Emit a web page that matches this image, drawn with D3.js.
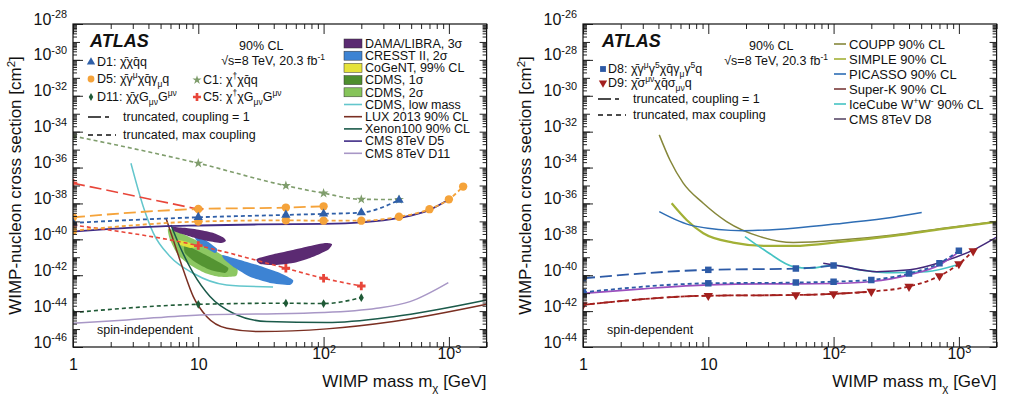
<!DOCTYPE html>
<html><head><meta charset="utf-8">
<script src="https://cdn.jsdelivr.net/npm/d3@7"></script>
<style>
body{margin:0;background:#fff}
svg{display:block}
text{font-family:"Liberation Sans",Arial,Helvetica,sans-serif;fill:#111}
</style>
</head><body>
<svg id="c" width="1024" height="416"></svg>
<script>
// ---------------- DATA ----------------
const massTicks = [1, 10, 100, 1000];
const massTickLabels = ["1", "10", "10^2", "10^3"];
const siTickExps = [-28, -30, -32, -34, -36, -38, -40, -42, -44, -46];
const sdTickExps = [-26, -28, -30, -32, -34, -36, -38, -40, -42, -44];

// Spin-independent (left) -- cross sections given as log10(sigma / cm^2)
const d1Mass = [1, 10, 50, 100, 200, 400];
const d1Xsec = [-39.08, -38.77, -38.64, -38.58, -38.51, -37.81];
const d5TruncMass = [1, 10, 50, 100];
const d5TruncXsec = [-38.77, -38.31, -38.23, -38.16];
const d5MaxMass = [1, 10, 50, 100, 200, 400, 700, 1000, 1300];
const d5MaxXsec = [-39.52, -39.01, -38.94, -38.96, -38.96, -38.74, -38.32, -37.77, -37.06];
const d11Mass = [1, 10, 50, 100, 200];
const d11Xsec = [-44.08, -43.62, -43.56, -43.58, -43.25];
const c1Mass = [1, 10, 50, 100, 200, 400];
const c1Xsec = [-34.24, -35.76, -37.01, -37.43, -37.77, -37.78];
const c5TruncMass = [1, 10];
const c5TruncXsec = [-36.87, -38.32];
const c5MaxMass = [1, 10, 50, 100, 200];
const c5MaxXsec = [-39.2, -40.35, -41.61, -42.17, -42.60];

const cmsD5Mass = [1, 2, 5, 10, 30, 100, 200, 400, 700, 1000];
const cmsD5Xsec = [-39.57, -39.42, -39.28, -39.23, -39.17, -39.14, -39.06, -38.81, -38.36, -37.78];
const cmsD11Mass = [1, 2.68, 10.3, 31.1, 99.5, 265, 489, 990];
const cmsD11Xsec = [-44.67, -44.49, -44.21, -44.16, -44.08, -43.84, -43.47, -42.41];
const cdmsLowMass = [2.9, 3.64, 4.37, 5.95, 9.1, 16.8, 39.5];
const cdmsLowXsec = [-35.76, -38.18, -39.64, -40.96, -41.89, -42.54, -42.66];
const luxMass = [5.52, 6.31, 7.59, 9.12, 11.7, 16.9, 31.1, 106, 360, 2000];
const luxXsec = [-38.82, -40.03, -41.70, -43.19, -44.31, -44.95, -45.14, -44.99, -44.58, -43.62];
const xenonMass = [6.05, 7.14, 9.12, 12.4, 19.0, 35.2, 106, 360, 2000];
const xenonXsec = [-39.20, -40.41, -41.89, -43.19, -44.12, -44.58, -44.64, -44.31, -43.38];

// allowed regions: [mass, log10 sigma]
const damaRegionA = [[6.17,-39.31],[7.83,-39.36],[10.3,-39.48],[13.1,-39.64],[16.0,-39.92],[16.6,-40.09],[15.2,-40.20],[11.9,-40.09],[9.42,-39.92],[7.42,-39.70],[6.4,-39.53]];
const damaRegionB = [[29.3,-41.09],[40.9,-40.81],[57.0,-40.59],[78.0,-40.37],[102.6,-40.20],[116.8,-40.26],[108,-40.59],[78.0,-41.04],[57.0,-41.32],[40.9,-41.43],[31.1,-41.37]];
const cresstRegionA = [[9.42,-39.81],[11.3,-40.03],[14.1,-40.53],[13.6,-40.76],[10.9,-40.37],[9.6,-40.03]];
const cresstRegionB = [[15.7,-40.87],[21.5,-41.15],[31.1,-41.48],[44.9,-41.87],[57.0,-42.26],[53.9,-42.54],[37.3,-42.43],[25.8,-42.09],[19.6,-41.59],[16.0,-41.09]];
const cdms2Region = [[5.74,-39.42],[7.14,-39.64],[9.42,-40.03],[12.4,-40.48],[16.3,-40.98],[20.4,-41.59],[20.0,-42.04],[14.9,-42.09],[11.3,-41.87],[8.6,-41.43],[6.88,-40.87],[5.95,-40.03]];
const cdms1Region = [[7.83,-40.31],[10.3,-40.70],[13.6,-41.15],[17.3,-41.59],[16.3,-41.87],[12.4,-41.70],[9.42,-41.26],[7.83,-40.76]];
const cogentRegion = [[6.75,-40.03],[8.6,-40.2],[9.77,-40.42],[8.6,-40.48],[6.88,-40.26]];

// Spin-dependent (right)
const d8TruncMass = [1, 10, 50, 100];
const d8TruncXsec = [-40.17, -39.70, -39.63, -39.46];
const d8MaxMass = [1, 10, 50, 100, 200, 400, 700, 1000];
const d8MaxXsec = [-40.95, -40.45, -40.41, -40.36, -40.26, -39.91, -39.33, -38.63];
const d9TruncMass = [1, 10, 50, 100, 200];
const d9TruncXsec = [-41.65, -41.14, -41.10, -41.04, -40.91];
const d9MaxMass = [1, 10, 50, 100, 200, 400, 700, 1000, 1300];
const d9MaxXsec = [-41.65, -41.14, -41.10, -41.04, -40.91, -40.63, -40.04, -39.37, -38.65];

const couppMass = [4.06, 4.94, 6.31, 9.12, 14.0, 25.9, 47.7, 119, 300, 750, 2000];
const couppXsec = [-32.18, -33.58, -34.87, -35.99, -37.01, -37.85, -38.18, -38.03, -37.76, -37.38, -37.01];
const simpleMass = [5.1, 6.72, 9.12, 15.8, 29.2, 47.7, 119, 300, 750, 2000];
const simpleXsec = [-35.99, -36.92, -37.66, -38.18, -38.37, -38.37, -38.13, -37.81, -37.42, -37.03];
const picassoMass = [4.06, 7.6, 19.0, 47.7, 119, 300, 505];
const picassoXsec = [-36.46, -37.25, -37.52, -37.38, -37.10, -36.77, -36.51];
const superkMass = [82.7, 119, 221, 407, 750, 1387, 2000];
const superkXsec = [-39.33, -39.52, -39.80, -39.70, -39.24, -38.50, -37.88];
const icecubeMass = [19.6, 29.3, 47.7, 64.8, 99.5, 162, 300, 553, 960];
const icecubeXsec = [-37.85, -38.69, -39.52, -39.61, -39.43, -39.70, -39.86, -39.80, -39.43];
const cmsD8Mass = [1, 3, 10, 30, 50, 100, 200, 400, 700, 1000];
const cmsD8Xsec = [-41.01, -40.76, -40.54, -40.48, -40.48, -40.46, -40.35, -39.98, -39.43, -38.70];

// ---------------- DRAWING ----------------
const svg = d3.select("#c");
const LONG = "12,5";
const SHORT = "4,3";

function rich(sel, parts, fs) {
  let cur = 0;
  parts.forEach(p => {
    const t = p[0], m = p[1] || "";
    const target = m === "sup" ? -0.38 * fs : m === "sub" ? 0.28 * fs : 0;
    sel.append("tspan").attr("dy", (target - cur).toFixed(2)).attr("font-size", m ? fs * 0.68 : fs).text(t);
    cur = target;
  });
  if (cur !== 0) sel.append("tspan").attr("dy", -cur).text("");
}
function powLabel(sel, s, fs) {
  const [b, e] = s.split("^");
  sel.text(null);
  if (e === undefined) { sel.append("tspan").text(b); return; }
  rich(sel, [[b, ""], [e, "sup"]], fs);
}

function makePanel(cfg) {
  const g = svg.append("g");
  const x = d3.scaleLog().domain([1, 2000]).range([cfg.x0, cfg.x1]);
  const y = d3.scaleLog().domain([Math.pow(10, cfg.yMin), Math.pow(10, cfg.yMax)]).range([cfg.y1, cfg.y0]);
  const id = "clip" + cfg.name;
  svg.append("clipPath").attr("id", id).append("rect")
    .attr("x", cfg.x0).attr("y", cfg.y0).attr("width", cfg.x1 - cfg.x0).attr("height", cfg.y1 - cfg.y0);
  const plot = g.append("g").attr("clip-path", `url(#${id})`);
  const axes = svg.append("g");

  const xMinor = [];
  [1, 10, 100, 1000].forEach(d => { for (let k = 2; k <= 9; k++) if (d * k <= 2000) xMinor.push(d * k); });
  const yMinor = [], yDec = [];
  for (let e = cfg.yMin; e < cfg.yMax; e++) {
    yDec.push(Math.pow(10, e));
    for (let k = 2; k <= 9; k++) yMinor.push(k * Math.pow(10, e));
  }
  const clean = s => s.select(".domain").remove();
  axes.append("g").attr("transform", `translate(0,${cfg.y1})`).call(d3.axisBottom(x).tickValues(xMinor).tickSize(-5).tickFormat("")).call(clean);
  axes.append("g").attr("transform", `translate(0,${cfg.y0})`).call(d3.axisTop(x).tickValues(xMinor).tickSize(-5).tickFormat("")).call(clean);
  axes.append("g").attr("transform", `translate(0,${cfg.y0})`).call(d3.axisTop(x).tickValues(massTicks).tickSize(-10).tickFormat("")).call(clean);
  const bx = axes.append("g").attr("transform", `translate(0,${cfg.y1})`)
    .call(d3.axisBottom(x).tickValues(massTicks).tickSize(-10).tickPadding(12)).call(clean);
  bx.selectAll(".tick text").attr("font-size", 16).attr("fill", "#111")
    .each(function (d, i) { powLabel(d3.select(this), massTickLabels[i], 16); });

  [[d3.axisLeft, cfg.x0], [d3.axisRight, cfg.x1]].forEach(([ax, pos]) => {
    axes.append("g").attr("transform", `translate(${pos},0)`).call(ax(y).tickValues(yMinor).tickSize(-4).tickFormat("")).call(clean);
    axes.append("g").attr("transform", `translate(${pos},0)`).call(ax(y).tickValues(yDec).tickSize(-7).tickFormat("")).call(clean);
  });
  const ly = axes.append("g").attr("transform", `translate(${cfg.x0},0)`)
    .call(d3.axisLeft(y).tickValues(cfg.labels.map(e => Math.pow(10, e))).tickSize(-10).tickPadding(6)).call(clean);
  ly.selectAll(".tick text").attr("font-size", 16).attr("fill", "#111")
    .each(function (d, i) { powLabel(d3.select(this), "10^" + cfg.labels[i], 16); });
  axes.selectAll(".tick line").attr("stroke", "#222");

  axes.append("rect").attr("x", cfg.x0).attr("y", cfg.y0).attr("width", cfg.x1 - cfg.x0).attr("height", cfg.y1 - cfg.y0)
    .attr("fill", "none").attr("stroke", "#111").attr("stroke-width", 1.2);

  const yt = svg.append("text").attr("transform", `translate(${cfg.x0 - 52},${(cfg.y0 + cfg.y1) / 2}) rotate(-90)`)
    .attr("text-anchor", "middle").attr("font-size", 17);
  rich(yt, [["WIMP-nucleon cross section [cm", ""], ["2", "sup"], ["]", ""]], 17);
  const xt = svg.append("text").attr("x", cfg.x1).attr("y", 387).attr("text-anchor", "end").attr("font-size", 17);
  rich(xt, [["WIMP mass m", ""], ["χ", "sub"], [" [GeV]", ""]], 17);
  return { g, x, y, plot, axes };
}

function drawLine(P, mass, xs, color, width, dash) {
  const pts = mass.map((m, i) => [m, xs[i]]);
  P.plot.append("path").datum(pts)
    .attr("d", d3.line().x(d => P.x(d[0])).y(d => P.y(Math.pow(10, d[1]))).curve(d3.curveMonotoneX))
    .attr("fill", "none").attr("stroke", color).attr("stroke-width", width)
    .attr("stroke-dasharray", dash || null);
}
function drawMarkers(P, mass, xs, type, size, color, rot) {
  const pts = mass.map((m, i) => [m, xs[i]]);
  P.plot.append("g").selectAll("path").data(pts).join("path")
    .attr("d", d3.symbol(type, size))
    .attr("transform", d => `translate(${P.x(d[0])},${P.y(Math.pow(10, d[1]))})${rot ? " rotate(" + rot + ")" : ""}`)
    .attr("fill", color);
}
function drawRegion(P, pts, color, op) {
  P.plot.append("path").datum(pts)
    .attr("d", d3.line().x(d => P.x(d[0])).y(d => P.y(Math.pow(10, d[1]))).curve(d3.curveCardinalClosed.tension(0.4)))
    .attr("fill", color).attr("fill-opacity", op || 1).attr("stroke", "none");
}

const C = {
  d1: "#2f5fa8", d5: "#f5a33a", d11: "#1f5a36", c1: "#7f9d6c", c5: "#e8463a",
  dama: "#5b2a72", cresst: "#3d83d3", cogent: "#e6e33a", cdms1: "#4e8e2e", cdms2: "#86c45a",
  cdmsLow: "#63c6cc", lux: "#7a2f22", xenon: "#1b5a4a", cmsD5: "#3f2b86", cmsD11: "#a897c6",
  d8: "#2d5aa6", d9: "#a3201e", coupp: "#86873a", simple: "#a2b036", picasso: "#2e6db4",
  superk: "#43287a", icecube: "#45c3c3", cmsD8: "#9b4fbe"
};

// ================= LEFT PANEL =================
const L = makePanel({ name: "L", x0: 73, x1: 486.6, y0: 24, y1: 347, yMin: -46, yMax: -28, labels: siTickExps });

drawRegion(L, cdms2Region, C.cdms2, 0.95);
drawRegion(L, cdms1Region, C.cdms1, 0.9);
drawRegion(L, cogentRegion, C.cogent, 0.95);
drawRegion(L, cresstRegionA, C.cresst);
drawRegion(L, cresstRegionB, C.cresst);
drawRegion(L, damaRegionA, C.dama);
drawRegion(L, damaRegionB, C.dama);

drawLine(L, cdmsLowMass, cdmsLowXsec, C.cdmsLow, 1.5);
drawLine(L, luxMass, luxXsec, C.lux, 1.5);
drawLine(L, xenonMass, xenonXsec, C.xenon, 1.5);
drawLine(L, cmsD11Mass, cmsD11Xsec, C.cmsD11, 1.5);
drawLine(L, cmsD5Mass, cmsD5Xsec, C.cmsD5, 1.8);

drawLine(L, c1Mass, c1Xsec, C.c1, 1.6, SHORT);
drawLine(L, d11Mass, d11Xsec, C.d11, 1.6, SHORT);
drawLine(L, c5TruncMass, c5TruncXsec, C.c5, 1.6, LONG);
drawLine(L, c5MaxMass, c5MaxXsec, C.c5, 1.6, SHORT);
drawLine(L, d5TruncMass, d5TruncXsec, C.d5, 1.8, LONG);
drawLine(L, d5MaxMass, d5MaxXsec, C.d5, 1.8, SHORT);
drawLine(L, d1Mass, d1Xsec, C.d1, 1.8, SHORT);

drawMarkers(L, c1Mass, c1Xsec, d3.symbolStar, 30, C.c1);
drawMarkers(L, d11Mass, d11Xsec, d3.symbolDiamond, 22, C.d11);
drawMarkers(L, c5TruncMass, c5TruncXsec, d3.symbolCross, 40, C.c5);
drawMarkers(L, c5MaxMass, c5MaxXsec, d3.symbolCross, 40, C.c5);
drawMarkers(L, d5TruncMass, d5TruncXsec, d3.symbolCircle, 55, C.d5);
drawMarkers(L, d5MaxMass, d5MaxXsec, d3.symbolCircle, 55, C.d5);
drawMarkers(L, d1Mass, d1Xsec, d3.symbolTriangle, 38, C.d1);

svg.append("text").attr("x", 90).attr("y", 47).attr("font-size", 18).attr("font-weight", "bold").attr("font-style", "italic").text("ATLAS");
svg.append("text").attr("x", 239).attr("y", 50).attr("font-size", 12.5).text("90% CL");
rich(svg.append("text").attr("x", 325).attr("y", 65).attr("text-anchor", "end").attr("font-size", 12.5),
  [["√s=8 TeV, 20.3 fb", ""], ["-1", "sup"]], 12.5);
svg.append("text").attr("x", 97).attr("y", 334).attr("font-size", 12.5).text("spin-independent");

function legendMarker(type, size, color, cx, cy, rot) {
  svg.append("path").attr("d", d3.symbol(type, size)).attr("fill", color)
    .attr("transform", `translate(${cx},${cy})${rot ? " rotate(" + rot + ")" : ""}`);
}
function legendText(x, y, parts, fs) { rich(svg.append("text").attr("x", x).attr("y", y).attr("font-size", fs), parts, fs); }
function legendLine(x1, x2, y, color, dash, w) {
  svg.append("line").attr("x1", x1).attr("x2", x2).attr("y1", y).attr("y2", y)
    .attr("stroke", color).attr("stroke-width", w || 1.5).attr("stroke-dasharray", dash || null);
}

const LF = 12.5;
legendMarker(d3.symbolTriangle, 30, C.d1, 91, 62);
legendText(97, 66, [["D1: χ̄χq̄q", ""]], LF);
legendMarker(d3.symbolCircle, 36, C.d5, 91, 79);
legendText(97, 83, [["D5: χ̄γ", ""], ["μ", "sup"], ["χq̄γ", ""], ["μ", "sub"], ["q", ""]], LF);
legendMarker(d3.symbolDiamond, 18, C.d11, 91, 97);
legendText(97, 101, [["D11: χ̄χG", ""], ["μν", "sub"], ["G", ""], ["μν", "sup"]], LF);
legendMarker(d3.symbolStar, 26, C.c1, 197, 80);
legendText(203, 84, [["C1: χ", ""], ["†", "sup"], ["χq̄q", ""]], LF);
legendMarker(d3.symbolCross, 36, C.c5, 197, 97);
legendText(203, 101, [["C5: χ", ""], ["†", "sup"], ["χG", ""], ["μν", "sub"], ["G", ""], ["μν", "sup"]], LF);

legendLine(88, 116, 117, "#111", "13,4,4,20");
legendText(123, 121, [["truncated, coupling = 1", ""]], LF);
legendLine(88, 116, 135, "#111", "5,4");
legendText(123, 139, [["truncated, max coupling", ""]], LF);

const siLegend = [
  ["DAMA/LIBRA, 3σ", "box", C.dama], ["CRESST II, 2σ", "box", C.cresst], ["CoGeNT, 99% CL", "box", C.cogent],
  ["CDMS, 1σ", "box", C.cdms1], ["CDMS, 2σ", "box", C.cdms2], ["CDMS, low mass", "line", C.cdmsLow],
  ["LUX 2013 90% CL", "line", C.lux], ["Xenon100 90% CL", "line", C.xenon], ["CMS 8TeV D5", "line", C.cmsD5],
  ["CMS 8TeV D11", "line", C.cmsD11]
];
siLegend.forEach((d, i) => {
  const cy = 43.5 + i * 12.2;
  if (d[1] === "box") svg.append("rect").attr("x", 344).attr("y", cy - 4.5).attr("width", 18).attr("height", 9).attr("fill", d[2]).attr("stroke", "#333").attr("stroke-width", 0.5);
  else legendLine(344, 362, cy, d[2], null, 1.6);
  svg.append("text").attr("x", 365).attr("y", cy + 4.3).attr("font-size", 12.5).text(d[0]);
});

// ================= RIGHT PANEL =================
const R = makePanel({ name: "R", x0: 583, x1: 996.6, y0: 24, y1: 347, yMin: -44, yMax: -26, labels: sdTickExps });

drawLine(R, couppMass, couppXsec, C.coupp, 1.5);
drawLine(R, simpleMass, simpleXsec, C.simple, 2.2);
drawLine(R, picassoMass, picassoXsec, C.picasso, 1.5);
drawLine(R, icecubeMass, icecubeXsec, C.icecube, 1.6);
drawLine(R, superkMass, superkXsec, C.superk, 1.5);
drawLine(R, cmsD8Mass, cmsD8Xsec, C.cmsD8, 1.6);

drawLine(R, d9MaxMass, d9MaxXsec, C.d9, 1.8, SHORT);
drawLine(R, d9TruncMass, d9TruncXsec, C.d9, 1.8, LONG);
drawLine(R, d8MaxMass, d8MaxXsec, C.d8, 1.8, SHORT);
drawLine(R, d8TruncMass, d8TruncXsec, C.d8, 1.8, LONG);
drawMarkers(R, d9MaxMass, d9MaxXsec, d3.symbolTriangle, 38, C.d9, 180);
drawMarkers(R, d8MaxMass, d8MaxXsec, d3.symbolSquare, 42, C.d8);
drawMarkers(R, d8TruncMass, d8TruncXsec, d3.symbolSquare, 42, C.d8);

svg.append("text").attr("x", 602).attr("y", 47).attr("font-size", 18).attr("font-weight", "bold").attr("font-style", "italic").text("ATLAS");
svg.append("text").attr("x", 749).attr("y", 50).attr("font-size", 12.5).text("90% CL");
rich(svg.append("text").attr("x", 828).attr("y", 65).attr("text-anchor", "end").attr("font-size", 12.5),
  [["√s=8 TeV, 20.3 fb", ""], ["-1", "sup"]], 12.5);
svg.append("text").attr("x", 607).attr("y", 334).attr("font-size", 12.5).text("spin-dependent");

legendMarker(d3.symbolSquare, 34, C.d8, 603, 69);
legendText(608, 73, [["D8: χ̄γ", ""], ["μ", "sup"], ["γ", ""], ["5", "sup"], ["χq̄γ", ""], ["μ", "sub"], ["γ", ""], ["5", "sup"], ["q", ""]], LF);
legendMarker(d3.symbolTriangle, 30, C.d9, 603, 83, 180);
legendText(608, 87, [["D9: χ̄σ", ""], ["μν", "sup"], ["χq̄σ", ""], ["μν", "sub"], ["q", ""]], LF);
legendLine(598, 626, 99, "#111", "13,4,4,20");
legendText(633, 103, [["truncated, coupling = 1", ""]], LF);
legendLine(598, 626, 115, "#111", "5,4");
legendText(633, 119, [["truncated, max coupling", ""]], LF);

const sdLegend = [
  ["COUPP 90% CL", C.coupp], ["SIMPLE 90% CL", C.simple], ["PICASSO 90% CL", C.picasso],
  ["Super-K 90% CL", "#7a3a3a"], ["IceCube W+W- 90% CL", C.icecube], ["CMS 8TeV D8", "#5a4a6a"]
];
sdLegend.forEach((d, i) => {
  const cy = 44 + i * 15;
  legendLine(834, 846, cy, d[1], null, 1.6);
  const t = svg.append("text").attr("x", 849).attr("y", cy + 4.5).attr("font-size", 13);
  if (d[0].startsWith("IceCube")) rich(t, [["IceCube W", ""], ["+", "sup"], ["W", ""], ["-", "sup"], [" 90% CL", ""]], 13);
  else t.text(d[0]);
});
</script>
</body></html>
